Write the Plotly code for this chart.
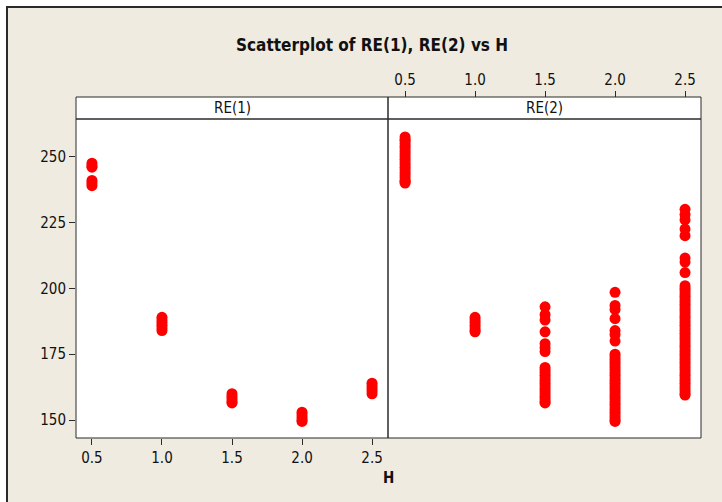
import plotly.graph_objects as go

# ---- data ----
h_re1 = [0.5]*6 + [1.0]*6 + [1.5]*5 + [2.0]*5 + [2.5]*5
re1 = [247.5, 246.5, 246, 241, 240, 239,
       189, 188, 187, 186, 185, 184,
       160, 159, 158, 157, 156.5,
       153, 152, 151, 150, 149.5,
       164, 163, 162, 161, 160]

re2_h05 = [257.5, 256.5, 256, 255, 254, 253, 252, 251, 250, 249, 248, 247, 246, 245, 244, 243,
           242, 241, 240.5, 240]
re2_h10 = [189, 188, 187, 186, 185, 184, 183.5]
re2_h15 = [193, 190, 188, 183.5, 179, 177.5, 176, 170, 169, 168, 167, 166, 165, 164, 163, 162,
           161, 160, 159, 158, 157, 156.5]
re2_h20 = [198.5, 193.5, 192, 188.5, 184, 182.5, 180, 175, 174, 173, 172, 171, 170, 169, 168, 167,
           166, 165, 164, 163, 162, 161, 160, 159, 158, 157, 156, 155, 154, 153, 152, 151, 150, 149.5]
re2_h25 = [230, 228, 226, 222.5, 220, 211.5, 210, 206, 201, 200, 199, 198, 197, 196, 195, 194, 193,
           192, 191, 190, 189, 188, 187, 186, 185, 184, 183, 182, 181, 180, 179, 178, 177, 176, 175,
           174, 173, 172, 171, 170, 169, 168, 167, 166, 165, 164, 163, 162, 161, 160, 159.5]
h_re2 = ([0.5]*len(re2_h05) + [1.0]*len(re2_h10) + [1.5]*len(re2_h15) +
         [2.0]*len(re2_h20) + [2.5]*len(re2_h25))
re2 = re2_h05 + re2_h10 + re2_h15 + re2_h20 + re2_h25

x_ticks = [0.5, 1.0, 1.5, 2.0, 2.5]
x_ticktext = ["0.5", "1.0", "1.5", "2.0", "2.5"]
y_ticks = [150, 175, 200, 225, 250]
panels = ["RE(1)", "RE(2)"]
title = "Scatterplot of RE(1), RE(2) vs H"
x_title = "H"

# ---- figure ----
FONT = "DejaVu Sans Condensed, DejaVu Sans, sans-serif"
BEIGE = "#EFEBE0"
DARK = "#2a2a2a"
W, H = 722, 502
ML, MR, MT, MB = 76, 21, 97, 64
PW, PH = W - ML - MR, H - MT - MB
split = (388 - ML) / PW
ytop = (438 - 119) / PH

def px_x(p):
    return (p - ML) / PW

def px_y(p):
    return (H - MB - p) / PH

fig = go.Figure()
mk = dict(color="#FF0000", size=11, line=dict(width=0))
fig.add_trace(go.Scatter(x=h_re1, y=re1, mode="markers", marker=mk, xaxis="x", yaxis="y",
                         showlegend=False, hoverinfo="x+y"))
fig.add_trace(go.Scatter(x=h_re2, y=re2, mode="markers", marker=mk, xaxis="x2", yaxis="y",
                         showlegend=False, hoverinfo="x+y"))

axis_common = dict(showgrid=False, zeroline=False, showline=False, ticks="outside",
                   tickcolor=DARK, tickwidth=1, tickfont=dict(family=FONT, size=15, color="#111"))

fig.update_layout(
    width=W, height=H,
    margin=dict(l=ML, r=MR, t=MT, b=MB),
    paper_bgcolor="white",
    plot_bgcolor="rgba(0,0,0,0)",
    font=dict(family=FONT, color="#111"),
    xaxis=dict(domain=[0, split], range=[0.386, 2.614], tickvals=x_ticks, ticktext=x_ticktext,
               anchor="y", ticklen=6, **axis_common),
    xaxis2=dict(domain=[split, 1], range=[0.378, 2.614], tickvals=x_ticks, ticktext=x_ticktext,
                side="top", anchor="free", position=1, ticklen=6, **axis_common),
    yaxis=dict(domain=[0, ytop], range=[143.2, 264.3], tickvals=y_ticks, anchor="x",
               ticklen=6, **axis_common),
)

shapes = [
    dict(type="rect", xref="paper", yref="paper", x0=px_x(7), x1=px_x(760), y0=px_y(540), y1=px_y(7),
         fillcolor=BEIGE, line=dict(width=0), layer="below"),
    dict(type="rect", xref="paper", yref="paper", x0=0, x1=1, y0=0, y1=1,
         fillcolor="white", line=dict(width=0), layer="below"),
    dict(type="path", xref="paper", yref="paper",
         path=f"M {px_x(7)},{px_y(540)} L {px_x(7)},{px_y(7)} L {px_x(760)},{px_y(7)}",
         line=dict(color=DARK, width=2), layer="below"),
    dict(type="rect", xref="paper", yref="paper", x0=0, x1=1, y0=0, y1=ytop,
         line=dict(color=DARK, width=1), layer="above"),
    dict(type="rect", xref="paper", yref="paper", x0=0, x1=1, y0=ytop, y1=1,
         line=dict(color=DARK, width=1), layer="above"),
    dict(type="line", xref="paper", yref="paper", x0=split, x1=split, y0=0, y1=1,
         line=dict(color=DARK, width=1.5), layer="above"),
]
fig.update_layout(shapes=shapes)

annotations = [
    dict(text=f"<b>{title}</b>", x=px_x(372), y=px_y(45), xref="paper", yref="paper",
         showarrow=False, font=dict(family=FONT, size=17, color="#111"), xanchor="center", yanchor="middle"),
    dict(text=f"<b>{x_title}</b>", x=split, y=px_y(478), xref="paper", yref="paper",
         showarrow=False, font=dict(family=FONT, size=15, color="#111"), xanchor="center", yanchor="middle"),
    dict(text=panels[0], x=split / 2, y=px_y(108), xref="paper", yref="paper",
         showarrow=False, font=dict(family=FONT, size=15, color="#111"), xanchor="center", yanchor="middle"),
    dict(text=panels[1], x=(split + 1) / 2, y=px_y(108), xref="paper", yref="paper",
         showarrow=False, font=dict(family=FONT, size=15, color="#111"), xanchor="center", yanchor="middle"),
]
fig.update_layout(annotations=annotations)

fig.write_html("out.html")
